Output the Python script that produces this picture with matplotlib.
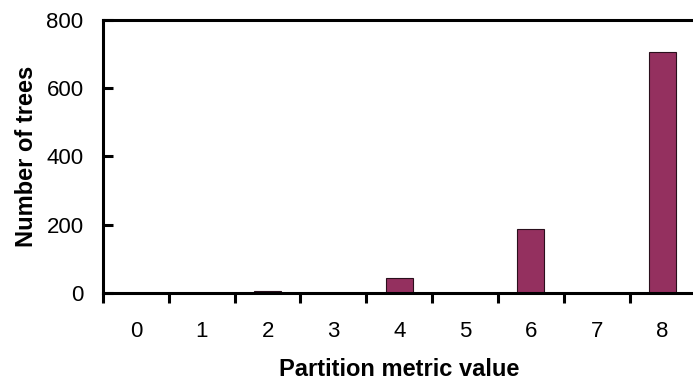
import matplotlib
matplotlib.use("Agg")
import matplotlib.pyplot as plt

# data
metric_values = [0, 1, 2, 3, 4, 5, 6, 7, 8]
tree_counts = [0, 0, 5, 0, 44, 0, 188, 0, 706]

plt.rcParams['font.family'] = ['Liberation Sans', 'DejaVu Sans']

fig = plt.figure(figsize=(6.93, 3.84), dpi=100)
ax = fig.add_axes([0.1486, 0.237, 0.855, 0.711])

ax.bar(metric_values, tree_counts, width=0.41, color='#94305f',
       edgecolor='#2a0f1c', linewidth=0.8)

ax.set_xlim(-0.5, 8.5)
ax.set_ylim(0, 800)
ax.set_yticks([0, 200, 400, 600, 800])
ax.set_xticks(metric_values)
# x ticks sit on the bin boundaries, labels at the bin centres
ax.set_xticks([v - 0.5 for v in metric_values] + [8.5], minor=True)
ax.tick_params(axis='x', which='major', length=0, pad=20, labelsize=16)
ax.tick_params(axis='x', which='minor', direction='out', length=7, width=2.2)
ax.tick_params(axis='y', direction='in', length=7, width=2.2, pad=14, labelsize=16)

for side in ['left', 'bottom', 'top']:
    ax.spines[side].set_linewidth(2.2)
ax.spines['right'].set_visible(False)

ax.set_xlabel('Partition metric value', fontsize=17, fontweight='bold', labelpad=12)
ax.set_ylabel('Number of trees', fontsize=17, fontweight='bold', labelpad=6)

fig.savefig('out.png', dpi=100)
